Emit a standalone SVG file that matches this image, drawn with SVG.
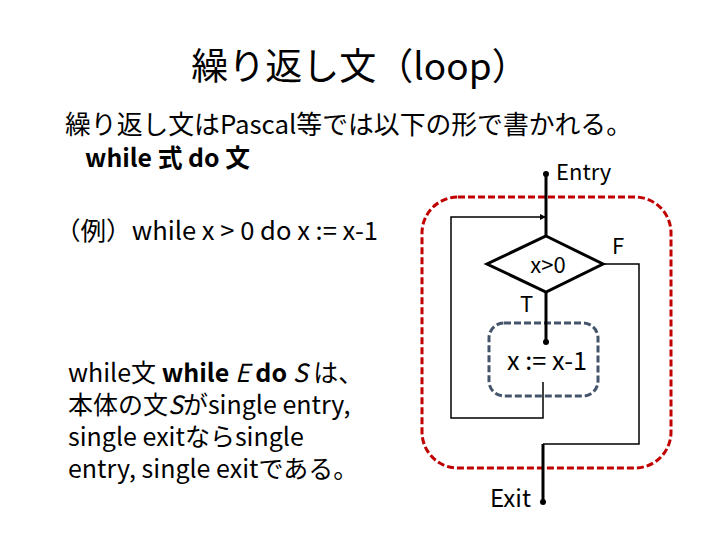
<svg xmlns="http://www.w3.org/2000/svg" width="720" height="540" viewBox="0 0 720 540">
<style>
text{font-family:"Noto Sans CJK JP","Noto Sans",sans-serif;fill:#000}
.t{font-size:22px}
.b{font-size:25px}
.thin{fill:none;stroke:#000;stroke-width:1.5}
.thick{fill:none;stroke:#000;stroke-width:3}
</style>
<defs>
<marker id="dot" viewBox="0 0 6 6" refX="3" refY="3" markerWidth="6" markerHeight="6" markerUnits="userSpaceOnUse"><circle cx="3" cy="3" r="3" fill="#000"/></marker>
<marker id="ah" viewBox="0 0 6 6" refX="6" refY="3" markerWidth="6" markerHeight="6" markerUnits="userSpaceOnUse" orient="auto"><path d="M0,0 L6,3 L0,6 z" fill="#000"/></marker>
</defs>
<rect width="720" height="540" fill="#fff"/>
<text x="360" y="80" font-size="37" text-anchor="middle">繰り返し文（loop）</text>
<text x="65" y="134" font-size="26" textLength="567" lengthAdjust="spacingAndGlyphs">繰り返し文はPascal等では以下の形で書かれる。</text>
<text x="85" y="167" class="b" font-weight="bold" textLength="165" lengthAdjust="spacingAndGlyphs">while 式 do 文</text>
<text x="55" y="240" class="b" textLength="323" lengthAdjust="spacingAndGlyphs">（例）while x &gt; 0 do x := x-1</text>
<g id="desc">
<text x="68" y="382" class="b">while文 <tspan font-weight="bold">while </tspan><tspan font-style="italic">E</tspan><tspan font-weight="bold"> do </tspan><tspan font-style="italic">S</tspan> は、</text>
<text x="68" y="414" class="b">本体の文<tspan font-style="italic">S</tspan>がsingle entry,</text>
<text x="68" y="446" class="b">single exitならsingle</text>
<text x="68" y="478" class="b">entry, single exitである。</text>
</g>
<g id="region"><rect x="422" y="197" width="249" height="271" rx="36" fill="none" stroke="#c00000" stroke-width="3" stroke-dasharray="7,3"/></g>
<g id="entry"><text x="556" y="180" class="t" font-size="23">Entry</text></g>
<g id="cond">
<polygon points="546,236 603,264 546,292 487,264" fill="#fff" stroke="#000" stroke-width="3"/>
<text x="548" y="273" class="t" text-anchor="middle">x&gt;0</text>
</g>
<g id="body">
<rect x="489" y="323" width="109" height="73" rx="15" fill="none" stroke="#44546a" stroke-width="3" stroke-dasharray="7,3"/>
<text x="507" y="370" font-size="25" textLength="80" lengthAdjust="spacingAndGlyphs">x := x-1</text>
</g>
<g id="exit"><text x="490" y="507" font-size="24" textLength="41" lengthAdjust="spacingAndGlyphs">Exit</text></g>
<g id="connectors">
<line x1="546" y1="174" x2="546" y2="236" class="thick" marker-start="url(#dot)"/>
<polyline points="543,382 543,418 451,418 451,217 546,217" class="thin" marker-end="url(#ah)"/>
<line x1="546" y1="292" x2="546" y2="342" class="thick" marker-end="url(#dot)"/>
<polyline points="603,264 639,264 639,444 543,444" class="thin"/>
<line x1="543" y1="444" x2="543" y2="502" class="thick" marker-end="url(#dot)"/>
<text x="612" y="254" class="t" font-size="20">F</text>
<text x="520" y="312" class="t" font-size="20">T</text>
</g>
</svg>
